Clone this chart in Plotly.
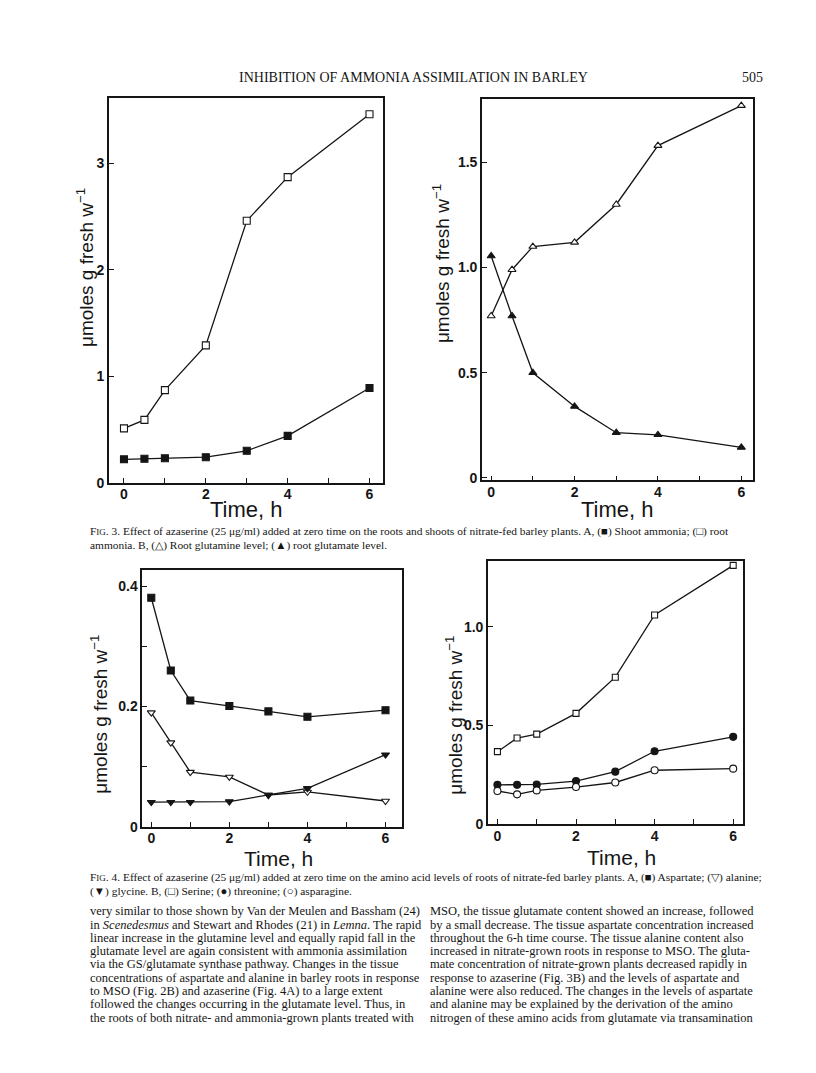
import plotly.graph_objects as go

W, H = 816, 1073

# ---------------- data ----------------
time_h = [0, 0.5, 1, 2, 3, 4, 6]
x_ticks = [0, 2, 4, 6]
x_tick_labels = ["0", "2", "4", "6"]
x_minor_ticks = [1, 3, 5]

# Fig. 3A
root_ammonia = [0.51, 0.59, 0.87, 1.29, 2.46, 2.87, 3.46]
shoot_ammonia = [0.22, 0.225, 0.23, 0.24, 0.30, 0.44, 0.89]
# Fig. 3B
root_glutamine = [0.77, 0.99, 1.10, 1.12, 1.30, 1.58, 1.77]
root_glutamate = [1.055, 0.77, 0.50, 0.34, 0.215, 0.205, 0.145]
# Fig. 4A
aspartate = [0.381, 0.260, 0.210, 0.201, 0.192, 0.183, 0.194]
alanine = [0.190, 0.140, 0.091, 0.083, 0.053, 0.058, 0.043]
glycine = [0.041, 0.041, 0.041, 0.042, 0.053, 0.064, 0.120]
# Fig. 4B
serine = [0.367, 0.436, 0.456, 0.561, 0.744, 1.059, 1.31]
threonine = [0.199, 0.199, 0.201, 0.218, 0.266, 0.369, 0.442]
asparagine = [0.168, 0.151, 0.171, 0.188, 0.211, 0.273, 0.281]

y_ticks_a = [0, 1, 2, 3]
y_labels_a = ["0", "1", "2", "3"]
y_ticks_b = [0, 0.5, 1.0, 1.5]
y_labels_b = ["0", "0.5", "1.0", "1.5"]
y_ticks_c = [0, 0.2, 0.4]
y_labels_c = ["0", "0.2", "0.4"]
y_minor_c = [0.1, 0.3]
y_ticks_d = [0, 0.5, 1.0]
y_labels_d = ["0", "0.5", "1.0"]

header = "INHIBITION OF AMMONIA ASSIMILATION IN BARLEY"
page_no = "505"
ylab = "\u03bcmoles g fresh w<sup>\u22121</sup>"
xlab = "Time, h"

sc = "<span style='font-size:9px'>IG</span>"
cap3 = [
    "F" + sc + ". 3. Effect of azaserine (25 \u03bcg/ml) added at zero time on the roots and shoots of nitrate-fed barley plants. A, (\u25a0) Shoot ammonia; (\u25a1) root",
    "ammonia. B, (\u25b3) Root glutamine level; (\u25b2) root glutamate level.",
]
cap4 = [
    "F" + sc + ". 4. Effect of azaserine (25 \u03bcg/ml) added at zero time on the amino acid levels of roots of nitrate-fed barley plants. A, (\u25a0) Aspartate; (\u25bd) alanine;",
    "(\u25bc) glycine. B, (\u25a1) Serine; (\u25cf) threonine; (\u25cb) asparagine.",
]
body_left = [
    "very similar to those shown by Van der Meulen and Bassham (24)",
    "in <i>Scenedesmus</i> and Stewart and Rhodes (21) in <i>Lemna</i>. The rapid",
    "linear increase in the glutamine level and equally rapid fall in the",
    "glutamate level are again consistent with ammonia assimilation",
    "via the GS/glutamate synthase pathway. Changes in the tissue",
    "concentrations of aspartate and alanine in barley roots in response",
    "to MSO (Fig. 2B) and azaserine (Fig. 4A) to a large extent",
    "followed the changes occurring in the glutamate level. Thus, in",
    "the roots of both nitrate- and ammonia-grown plants treated with",
]
body_right = [
    "MSO, the tissue glutamate content showed an increase, followed",
    "by a small decrease. The tissue aspartate concentration increased",
    "throughout the 6-h time course. The tissue alanine content also",
    "increased in nitrate-grown roots in response to MSO. The gluta-",
    "mate concentration of nitrate-grown plants decreased rapidly in",
    "response to azaserine (Fig. 3B) and the levels of aspartate and",
    "alanine were also reduced. The changes in the levels of aspartate",
    "and alanine may be explained by the derivation of the amino",
    "nitrogen of these amino acids from glutamate via transamination",
]

INK = "#151515"
SANS = "Liberation Sans, Arial, sans-serif"
SERIF = "Liberation Serif, Times New Roman, serif"


def px(x):
    return x / W


def py(y):
    return 1 - y / H


fig = go.Figure()


def add_series(ax, y, symbol, filled, size=7):
    xa = "x" if ax == 1 else f"x{ax}"
    ya = "y" if ax == 1 else f"y{ax}"
    fig.add_trace(go.Scatter(
        x=time_h, y=y, xaxis=xa, yaxis=ya, mode="lines+markers",
        line=dict(color=INK, width=1.3),
        marker=dict(symbol=symbol, size=size,
                    color=INK if filled else "white",
                    line=dict(color=INK, width=1.1)),
        cliponaxis=False, showlegend=False, hoverinfo="skip"))


add_series(1, root_ammonia, "square", False, 7)
add_series(1, shoot_ammonia, "square", True, 7)
add_series(2, root_glutamine, "triangle-up", False, 7)
add_series(2, root_glutamate, "triangle-up", True, 7)
add_series(3, aspartate, "square", True, 7)
add_series(3, alanine, "triangle-down", False, 7)
add_series(3, glycine, "triangle-down", True, 7)
add_series(4, serine, "square", False, 6)
add_series(4, threonine, "circle", True, 7)
add_series(4, asparagine, "circle", False, 7)

panels = {
    1: dict(x=(101, 375), y=(478.3, 91), xr=(-0.366, 6.33), yr=(0, 3.61),
            yt=(y_ticks_a, y_labels_a), ym=None),
    2: dict(x=(474, 745), y=(476, 92), xr=(-0.22, 6.28), yr=(-0.012, 1.80),
            yt=(y_ticks_b, y_labels_b), ym=None),
    3: dict(x=(134.3, 394.3), y=(825, 566), xr=(-0.23, 6.43), yr=(0, 0.4275),
            yt=(y_ticks_c, y_labels_c), ym=y_minor_c),
    4: dict(x=(480, 735), y=(822.3, 557), xr=(-0.24, 6.25), yr=(0, 1.333),
            yt=(y_ticks_d, y_labels_d), ym=None),
}

tickfont = dict(family=SANS, size=14, color=INK, weight="bold")
minor_style = dict(ticks="inside", ticklen=5, tickwidth=1.3, tickcolor=INK,
                   showgrid=False, tickmode="array")
layout = {}
for k, p in panels.items():
    xn = "xaxis" if k == 1 else f"xaxis{k}"
    yn = "yaxis" if k == 1 else f"yaxis{k}"
    ya = "y" if k == 1 else f"y{k}"
    xa = "x" if k == 1 else f"x{k}"
    common = dict(showline=True, mirror=True, linecolor=INK, linewidth=1.6,
                  ticks="inside", ticklen=5, tickwidth=1.3, tickcolor=INK,
                  showgrid=False, zeroline=False, tickfont=tickfont,
                  fixedrange=True)
    layout[xn] = dict(domain=[px(p["x"][0]), px(p["x"][1])], range=list(p["xr"]),
                      anchor=ya, tickmode="array", tickvals=x_ticks,
                      ticktext=x_tick_labels, ticklabelstandoff=-2,
                      minor=dict(tickvals=x_minor_ticks, **minor_style), **common)
    ydict = dict(domain=[py(p["y"][0]), py(p["y"][1])], range=list(p["yr"]),
                 anchor=xa, tickmode="array", tickvals=p["yt"][0],
                 ticktext=p["yt"][1], **common)
    if p["ym"]:
        ydict["minor"] = dict(tickvals=p["ym"], **minor_style)
    layout[yn] = ydict

fig.update_layout(**layout)

ann = []


def text(x, y, s, size, family, anchor="left", angle=0, weight="normal", yanchor="middle"):
    ann.append(dict(x=px(x), y=py(y), xref="paper", yref="paper", text=s,
                    showarrow=False, xanchor=anchor, yanchor=yanchor,
                    textangle=angle,
                    font=dict(family=family, size=size, color=INK, weight=weight)))


# y labels
text(77, 262, ylab, 19, SANS, "center", -90)
text(433, 258, ylab, 19, SANS, "center", -90)
text(91, 712, ylab, 19, SANS, "center", -90)
text(446, 712, ylab, 19, SANS, "center", -90)
# x labels
text(238, 505, xlab, 22, SANS, "center")
text(609, 505, xlab, 22, SANS, "center")
text(270, 857, xlab, 21, SANS, "center")
text(613, 856, xlab, 21, SANS, "center")

# header
text(405, 70, header, 14, SERIF, "center")
text(757, 70, page_no, 14, SERIF, "right")

# captions
for i, s in enumerate(cap3):
    text(80, 527 + 15 * i, s, 11.4, SERIF, "left")
for i, s in enumerate(cap4):
    text(80, 876 + 14 * i, s, 11.4, SERIF, "left")

# body text
for i, s in enumerate(body_left):
    text(80, 910 + 13.4 * i, s, 12.5, SERIF, "left")
for i, s in enumerate(body_right):
    text(420, 910 + 13.4 * i, s, 12.5, SERIF, "left")

fig.update_layout(annotations=ann, width=W, height=H,
                  margin=dict(l=0, r=0, t=0, b=0),
                  paper_bgcolor="white", plot_bgcolor="white")

fig.write_html("out.html", config={"displayModeBar": False})
